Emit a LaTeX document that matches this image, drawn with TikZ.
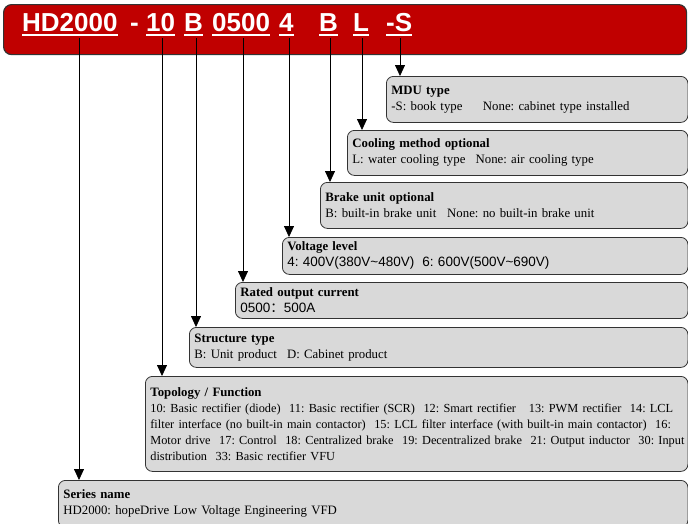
\documentclass[tikz,border=0pt]{standalone}
\usepackage{fontspec}
\setmainfont{Liberation Serif}
\newfontfamily\arialfont{Liberation Sans}
\newfontfamily\cjkfont{Noto Sans CJK SC}
\usetikzlibrary{arrows.meta}
\definecolor{bannerred}{HTML}{C00000}
\definecolor{boxgray}{HTML}{D9D9D9}
\definecolor{edgegray}{HTML}{333333}
\tikzset{
  banner/.style={draw=edgegray, line width=1.2pt, fill=bannerred, rounded corners=8pt, anchor=north west, inner sep=0pt},
  code/.style={font=\arialfont\bfseries\fontsize{26}{26}\selectfont, text=white, inner sep=0pt, anchor=base west},
  uline/.style={draw=white, line width=2.4pt},
  infobox/.style={draw=edgegray, line width=0.8pt, fill=boxgray, rounded corners=7pt, anchor=north west,
    inner xsep=5pt, inner ysep=0pt, align=left, font=\frenchspacing\fontsize{12.8}{16}\selectfont},
  pointer/.style={draw=black, line width=0.8pt, -{Triangle[width=10pt,length=11pt]}}
}
\newcommand{\boxw}[1]{\dimexpr 687.5pt-#1pt-10pt\relax}
\newcommand{\sanstext}[1]{{\arialfont\fontsize{13.5}{16}\selectfont #1}}
\begin{document}
\begin{tikzpicture}[x=1pt,y=-1pt]
\useasboundingbox (0,0) rectangle (688,523);
\clip (0,0) rectangle (688,523);
% banner
\node[banner, minimum width=683pt, minimum height=50pt] (banner) at (3,4) {};
\node[code] (t1) at (22,31) {HD2000};
\node[code] (t2) at (130,31) {-};
\node[code] (t3) at (146,31) {10};
\node[code] (t4) at (184,31) {B};
\node[code] (t5) at (212,31) {0500};
\node[code] (t6) at (279,31) {4};
\node[code] (t7) at (319,31) {B};
\node[code] (t8) at (353,31) {L};
\node[code] (t9) at (386,31) {-S};
\foreach \t in {t1,t3,t4,t5,t6,t7,t8,t9}{
  \draw[uline] ([yshift=-3.8pt]\t.base west) -- ([yshift=-3.8pt]\t.base east);
}
% boxes
\node[infobox, text width=\boxw{386}, minimum height=46pt] (mdu) at (386,76)
  {\textbf{MDU type}\\-S: book type\hspace{1.6em}None: cabinet type installed};
\node[infobox, text width=\boxw{347}, minimum height=45pt] (cool) at (347,130)
  {\textbf{Cooling method optional}\\L: water cooling type\hspace{0.8em}None: air cooling type};
\node[infobox, text width=\boxw{320}, minimum height=46pt] (brake) at (320,182)
  {\textbf{Brake unit optional}\\B: built-in brake unit\hspace{0.85em}None: no built-in brake unit};
\node[infobox, text width=\boxw{282}, minimum height=37pt] (volt) at (282,237)
  {\textbf{Voltage level}\\\sanstext{4: 400V(380V\textasciitilde480V)\hspace{0.6em}6: 600V(500V\textasciitilde690V)}};
\node[infobox, text width=\boxw{235}, minimum height=36pt] (rated) at (235,282)
  {\textbf{Rated output current}\\\sanstext{0500{\cjkfont ：}500A}};
\node[infobox, text width=\boxw{189}, minimum height=40pt] (struct) at (189,327)
  {\textbf{Structure type}\\B: Unit product\hspace{0.8em}D: Cabinet product};
\node[infobox, text width=\boxw{145}, minimum height=95pt] (topo) at (145,376)
  {\textbf{Topology / Function}\\
   \fontsize{12.3}{16}\selectfont
   \mbox{10: Basic rectifier (diode)\ \ 11: Basic rectifier (SCR)\ \ 12: Smart rectifier\ \ \ 13: PWM rectifier\ \ 14: LCL}\\
   \mbox{filter interface (no built-in main contactor)\ \ 15: LCL filter interface (with built-in main contactor)\ \ 16:}\\
   \mbox{Motor drive\ \ 17: Control\ \ 18: Centralized brake\ \ 19: Decentralized brake\ \ 21: Output inductor\ \ 30: Input}\\
   \mbox{distribution\ \ 33: Basic rectifier VFU}};
\node[infobox, text width=\boxw{58}, minimum height=47pt] (series) at (58,480)
  {\textbf{Series name}\\HD2000: hopeDrive Low Voltage Engineering VFD};
% pointer origins
\coordinate (a1) at (79,38);
\coordinate (a2) at (162,38);
\coordinate (a3) at (196,38);
\coordinate (a4) at (243,38);
\coordinate (a5) at (289,38);
\coordinate (a6) at (330,38);
\coordinate (a7) at (362,38);
\coordinate (a8) at (400,38);
\draw[pointer] (a1) -- (a1 |- series.north);
\draw[pointer] (a2) -- (a2 |- topo.north);
\draw[pointer] (a3) -- (a3 |- struct.north);
\draw[pointer] (a4) -- (a4 |- rated.north);
\draw[pointer] (a5) -- (a5 |- volt.north);
\draw[pointer] (a6) -- (a6 |- brake.north);
\draw[pointer] (a7) -- (a7 |- cool.north);
\draw[pointer] (a8) -- (a8 |- mdu.north);
\end{tikzpicture}
\end{document}
